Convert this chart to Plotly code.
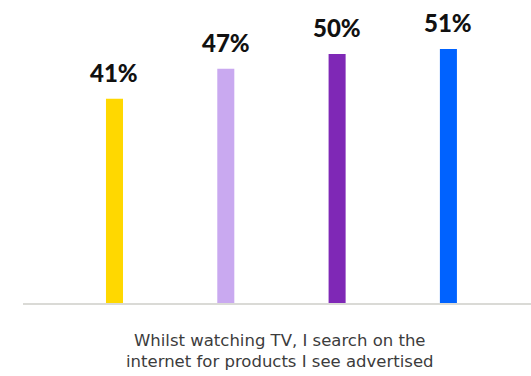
import plotly.graph_objects as go

# Share of respondents agreeing, by group
positions = [0, 1, 2, 3]
values = [41, 47, 50, 51]
colors = ["#FFD800", "#C9A9F0", "#7F28B6", "#0062FF"]
caption = "Whilst watching TV, I search on the<br>internet for products I see advertised"

fig = go.Figure(
    go.Bar(
        x=positions,
        y=values,
        marker=dict(color=colors, line=dict(width=0)),
        width=0.153,
        hoverinfo="skip",
    )
)

# value labels above each bar
for x, v in zip(positions, values):
    fig.add_annotation(
        x=x, y=v, text=f"{v}%", showarrow=False,
        yanchor="bottom", yshift=10,
        font=dict(family="Lato", size=24, color="#111111", weight=900),
    )

fig.add_annotation(
    xref="paper", yref="paper", x=0.505, y=0, yshift=-26,
    xanchor="center", yanchor="top", text=caption, showarrow=False,
    font=dict(family="DejaVu Sans", size=16.5, color="#3C3C3C"),
)

fig.update_layout(
    width=531, height=376,
    margin=dict(l=23, r=0, t=20, b=73),
    paper_bgcolor="white", plot_bgcolor="white",
    showlegend=False,
    xaxis=dict(range=[-0.822, 3.742], showticklabels=False, showgrid=False,
               zeroline=False, showline=True, linecolor="#DADAD6", linewidth=2,
               ticks=""),
    yaxis=dict(range=[0, 56.8], showticklabels=False, showgrid=False,
               zeroline=False, showline=False),
)

fig.write_html("out.html")
